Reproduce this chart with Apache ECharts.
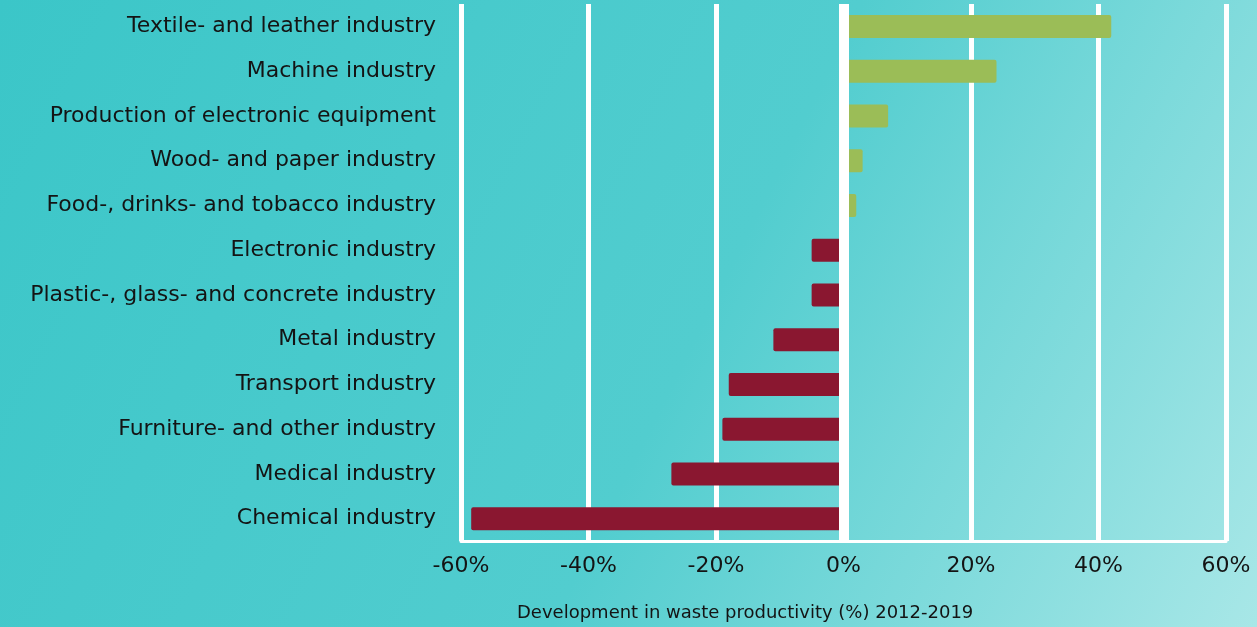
<!DOCTYPE html>
<html>
<head>
<meta charset="utf-8">
<script src="https://cdn.jsdelivr.net/npm/echarts@6/dist/echarts.min.js"></script>
<style>
  html, body { margin: 0; padding: 0; }
  #chart { width: 1257px; height: 627px; }
</style>
</head>
<body>
<div id="chart"></div>
<script>
// categories, top to bottom as in the picture
const industries = [
  "Textile- and leather industry",
  "Machine industry",
  "Production of electronic equipment",
  "Wood- and paper industry",
  "Food-, drinks- and tobacco industry",
  "Electronic industry",
  "Plastic-, glass- and concrete industry",
  "Metal industry",
  "Transport industry",
  "Furniture- and other industry",
  "Medical industry",
  "Chemical industry"
];
// development in waste productivity 2012-2019 (%)
const development = [42, 24, 7, 3, 2, -5, -5, -11, -18, -19, -27, -58.4];
const xTicks = [-60, -40, -20, 0, 20, 40, 60];

const GREEN = "#9bbd57";
const RED = "#8a1730";
const FONT = "DejaVu Sans";

let chart = echarts.init(document.getElementById("chart"));

const option = {
  backgroundColor: new echarts.graphic.LinearGradient(0, 0, 1, 1, [
    { offset: 0, color: "#3bc6c8" },
    { offset: 0.55, color: "#52cdcf" },
    { offset: 1, color: "#a8e7e7" }
  ]),
  grid: { left: 461, right: 31, top: 4, bottom: 86 },
  xAxis: {
    type: "value",
    min: xTicks[0],
    max: xTicks[xTicks.length - 1],
    interval: 20,
    axisLine: { show: true, onZero: false, lineStyle: { color: "#ffffff", width: 3 } },
    axisTick: { show: false },
    splitLine: { show: true, lineStyle: { color: "#ffffff", width: 5 } },
    axisLabel: {
      formatter: v => v + "%",
      color: "#141414",
      fontFamily: FONT,
      fontSize: 22,
      margin: 14
    }
  },
  yAxis: {
    type: "category",
    inverse: true,
    data: industries,
    axisLine: { show: false },
    axisTick: { show: false },
    splitLine: { show: false },
    axisLabel: {
      color: "#141414",
      fontFamily: FONT,
      fontSize: 22,
      margin: 25
    }
  },
  graphic: [{
    type: "text",
    left: 517,
    top: 604,
    style: {
      text: "Development in waste productivity (%) 2012-2019",
      fill: "#141414",
      font: "18px " + FONT
    }
  }],
  series: [{
    type: "bar",
    barWidth: 23,
    data: development.map(v => ({
      value: v,
      itemStyle: { color: v >= 0 ? GREEN : RED, borderRadius: 2 }
    })),
    markLine: {
      silent: true,
      symbol: "none",
      z: 10,
      label: { show: false },
      lineStyle: { color: "#ffffff", width: 10, type: "solid" },
      data: [{ xAxis: 0 }]
    }
  }]
};

chart.setOption(option);
</script>
</body>
</html>
